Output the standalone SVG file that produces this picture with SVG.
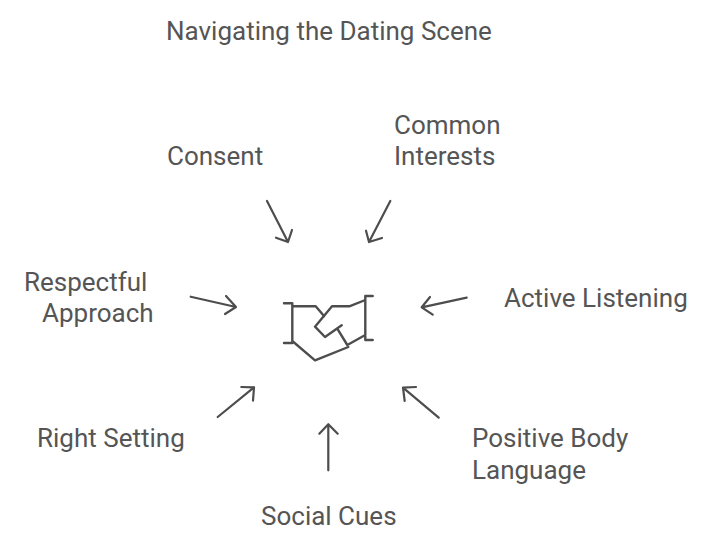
<svg xmlns="http://www.w3.org/2000/svg" width="720" height="548" viewBox="0 0 720 548">
<style>
text{font-family:Roboto,"Liberation Sans",sans-serif;font-size:26px;fill:#555}
.c path{fill:none;stroke:#4d4d4d;stroke-width:2.2;stroke-linecap:round;stroke-linejoin:round}
.i{fill:none;stroke:#4d4d4d;stroke-width:2.4;stroke-linecap:round;stroke-linejoin:round}
</style>
<rect width="720" height="548" fill="#fff"/>
<g id="title"><text x="166" y="40">Navigating the Dating Scene</text></g>
<g id="connectors" class="c">
<path d="M267 201L288 242M276 237.7L288 242L292 230"/>
<path d="M390.3 201L369 242M366 230.7L369 242L382 238"/>
<path d="M190.7 296.7L236 307M226 296L236 307L225 314"/>
<path d="M466.7 297.7L421.7 307.3M430 297L421.7 307.3L432.7 314.7"/>
<path d="M217.7 417L254 387.3M241.3 387L254 387.3L253 400.7"/>
<path d="M438.7 417.7L403 387.7M416 387L403 387.7L404.7 401"/>
<path d="M328.3 470.3V424.3M319.3 433.7L328.3 424.3L337.7 433.7"/>
</g>
<g id="handshake" class="i">
<path d="M284 303.3H292.3V343H284M292.3 306.3H315.7L324 316M292.3 341L315 360.3L348.3 347"/>
<path d="M372.7 296H365.3V340H372.7M365.3 300L349.3 306.3H332L315 326.7L325 337L341.7 325.3M337.3 328.7L347.3 345L365.3 335"/>
</g>
<g id="consent"><text x="167" y="165">Consent</text></g>
<g id="common-interests"><text x="394" y="134">Common</text><text x="394" y="165">Interests</text></g>
<g id="respectful-approach"><text x="24" y="291">Respectful</text><text x="42" y="322">Approach</text></g>
<g id="active-listening"><text x="504" y="307">Active Listening</text></g>
<g id="right-setting"><text x="37" y="447">Right Setting</text></g>
<g id="positive-body-language"><text x="472" y="447">Positive Body</text><text x="472" y="478.5">Language</text></g>
<g id="social-cues"><text x="261" y="525">Social Cues</text></g>
</svg>
